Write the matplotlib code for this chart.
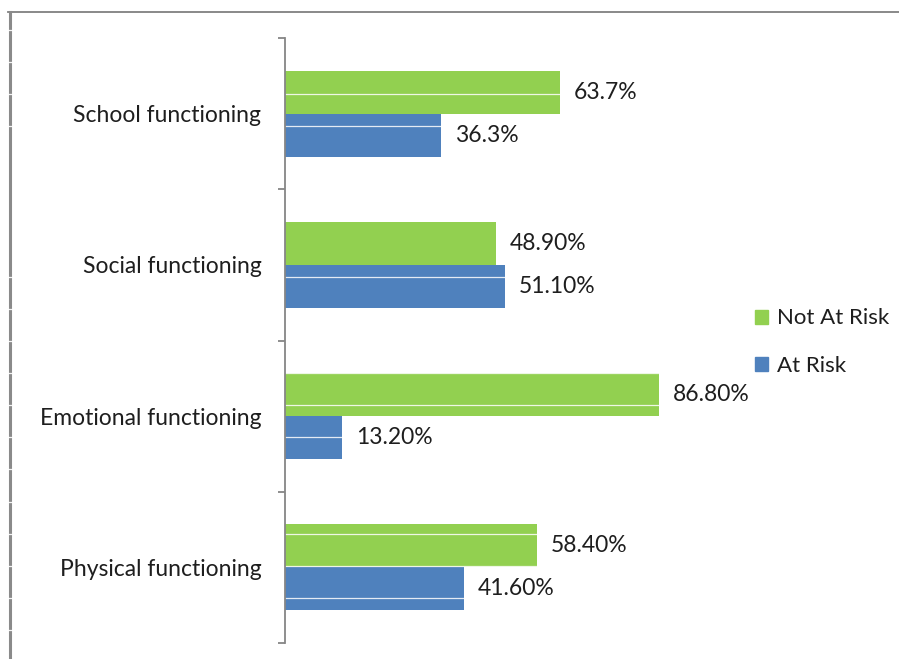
import numpy as np
import matplotlib.pyplot as plt
from matplotlib.patches import Patch
from matplotlib.lines import Line2D

## chart data, top category first
categories = ["School functioning", "Social functioning",
              "Emotional functioning", "Physical functioning"]
not_at_risk = [63.7, 48.9, 86.8, 58.4]
at_risk = [36.3, 51.1, 13.2, 41.6]
not_at_risk_labels = ["63.7%", "48.90%", "86.80%", "58.40%"]
at_risk_labels = ["36.3%", "51.10%", "13.20%", "41.60%"]

green = '#92D050'
blue = '#4F81BD'
edge_gray = '#868686'
txt = '#1e1e1e'

plt.rcParams['font.family'] = ['Lato', 'DejaVu Sans']

W, H = 899, 659
fig = plt.figure(figsize=(W / 100, H / 100), dpi=100)
ax = fig.add_axes([285 / W, 1 - 643 / H, (716 - 285) / W, (643 - 38) / H])

y = np.arange(len(categories))
bh = 0.285
ax.barh(y - bh / 2, not_at_risk, height=bh, color=green, label='Not At Risk')
ax.barh(y + bh / 2, at_risk, height=bh, color=blue, label='At Risk')

## value labels just past the bar ends
for i in range(len(categories)):
    ax.text(not_at_risk[i] + 3.2, y[i] - bh / 2, not_at_risk_labels[i],
            va='center', ha='left', fontsize=16.5, color=txt, zorder=4)
    ax.text(at_risk[i] + 3.2, y[i] + bh / 2, at_risk_labels[i],
            va='center', ha='left', fontsize=16.5, color=txt, zorder=4)

ax.set_xlim(0, 100)
ax.set_ylim(len(categories) - 0.5, -0.5)

for s in ['top', 'right', 'bottom']:
    ax.spines[s].set_visible(False)
ax.spines['left'].set_color(edge_gray)
ax.spines['left'].set_linewidth(1.3)
ax.set_xticks([])

## boundary ticks between groups, category names on minor ticks
ax.set_yticks(np.arange(-0.5, len(categories), 1.0))
ax.set_yticklabels([])
ax.tick_params(axis='y', which='major', length=5, width=1.3, color=edge_gray)
ax.set_yticks(y, minor=True)
ax.set_yticklabels(categories, minor=True, fontsize=16.5, color=txt)
ax.tick_params(axis='y', which='minor', length=0, pad=17)

## legend to the right of the plot
handles = [Patch(color=green), Patch(color=blue)]
fig.legend(handles, ['Not At Risk', 'At Risk'], loc='center left',
           bbox_to_anchor=(735 / W, 1 - 342 / H), frameon=False,
           fontsize=16, labelcolor=txt, handlelength=0.6, handleheight=0.6,
           handletextpad=0.4, labelspacing=1.22)

## outer frame: top and left edges only
fig.add_artist(Line2D([8 / W, 1], [1 - 12 / H, 1 - 12 / H], color='#808080', lw=1.3))
fig.add_artist(Line2D([9.5 / W, 9.5 / W], [0, 1 - 12 / H], color='#8a8a8a', lw=2.2))

## faint light scan rows: they show across the bars and the left frame edge
scan_rows = [30, 62, 94, 126, 277, 309, 341, 373, 405, 437, 469, 502, 534, 566, 598, 630]
to_data = ax.transData.inverted()
for r in scan_rows:
    yr = to_data.transform((0, H - r))[1]
    ax.axhline(yr, color='white', lw=0.9, alpha=0.85, zorder=2.5)
    fig.add_artist(Line2D([6 / W, 13 / W], [1 - r / H, 1 - r / H], color='white',
                          lw=0.9, alpha=0.9, zorder=50))

fig.savefig('out.png', dpi=100)
